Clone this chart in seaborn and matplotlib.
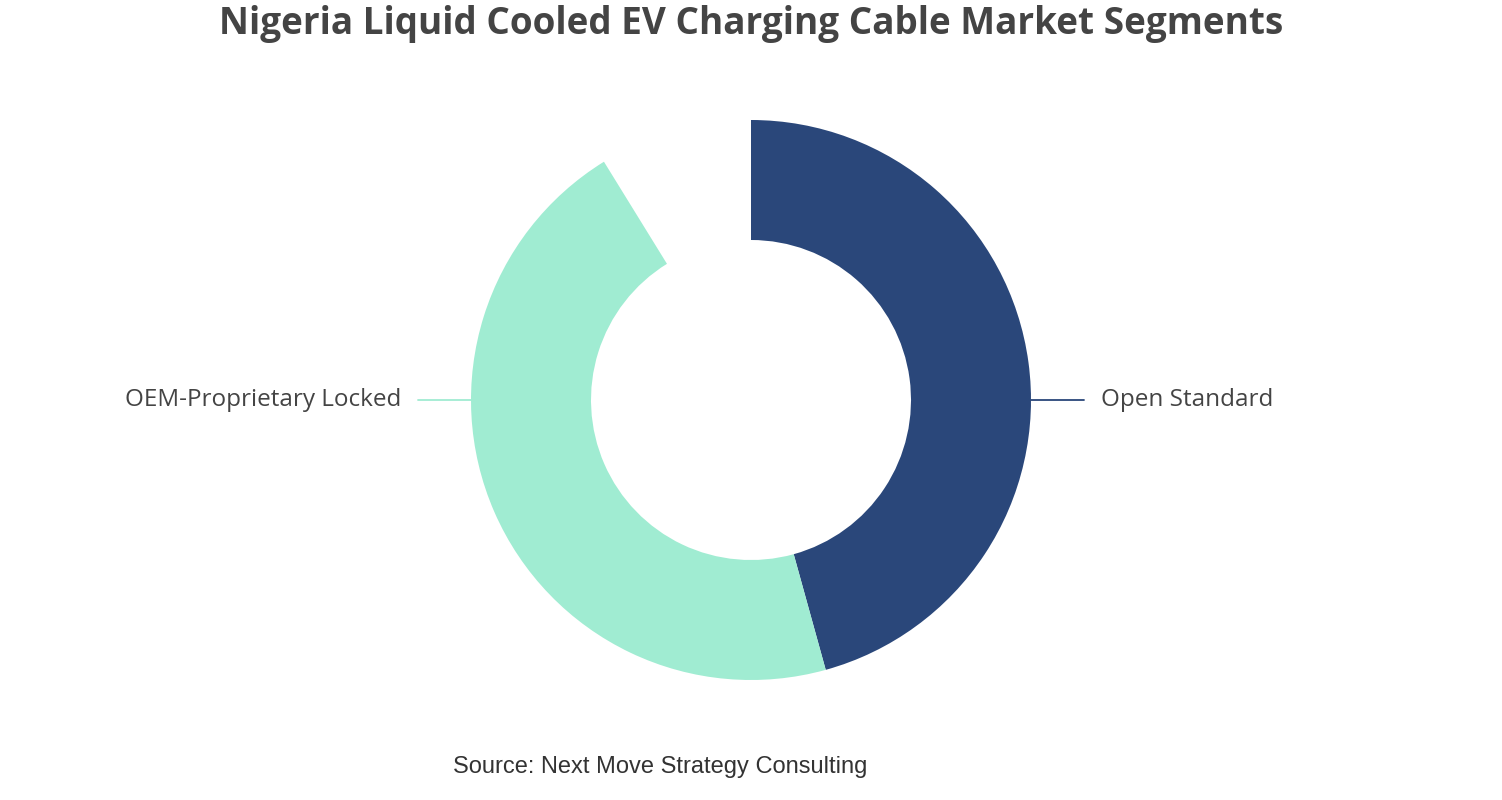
import seaborn as sns
import matplotlib.pyplot as plt

# segment shares (fractions of the whole; the rest of the ring is left empty)
segments = ['Open Standard', 'OEM-Proprietary Locked']
shares = [0.457, 0.455]
colors = ['#2a477a', '#a0ecd2']

sns.set_theme(style='white')
plt.rcParams['font.family'] = ['Open Sans', 'DejaVu Sans']

W, H = 1502, 800
R = 280.0
cx, cy = 751, 400

fig = plt.figure(figsize=(W / 100, H / 100), dpi=100)
ax = fig.add_axes([0, 0, 1, 1])

wedges, _ = ax.pie(shares, colors=colors, startangle=90, counterclock=False,
                   normalize=False, radius=1.0,
                   wedgeprops=dict(width=1.0 - 160 / R, linewidth=0))

# pie() resets the limits, so set them afterwards
ax.set_xlim(-cx / R, (W - cx) / R)
ax.set_ylim(-(H - cy) / R, cy / R)
ax.set_aspect('equal')
ax.axis('off')

# leader lines and labels
ax.plot([1.0, 1.19], [0, 0], color=colors[0], lw=1.3)
ax.text(1.25, 0, segments[0], ha='left', va='center', fontsize=17.5, color='#444444')
ax.plot([-1.0, -1.19], [0, 0], color=colors[1], lw=1.3)
ax.text(-1.25, 0, segments[1], ha='right', va='center', fontsize=17.5, color='#444444')

fig.text(0.5, 1 - 24 / H, 'Nigeria Liquid Cooled EV Charging Cable Market Segments',
         ha='center', va='center', fontsize=26.6, fontweight='bold', color='#444444')
fig.text(660 / W, 1 - 767 / H, 'Source: Next Move Strategy Consulting',
         ha='center', va='center', fontsize=17, color='#333333',
         family=['Liberation Sans', 'DejaVu Sans'])

fig.savefig('out.png', dpi=100)
